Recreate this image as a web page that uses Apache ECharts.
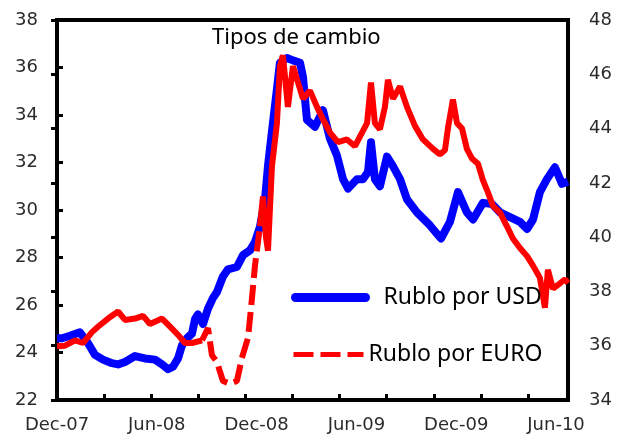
<!DOCTYPE html>
<html>
<head>
<meta charset="utf-8">
<script src="https://cdn.jsdelivr.net/npm/echarts@6/dist/echarts.min.js"></script>
<style>
  html, body { margin: 0; padding: 0; background: #fff; }
  #chart { width: 617px; height: 434px; }
</style>
</head>
<body>
<div id="chart"></div>
<script>
// meses desde dic-07
var usdMonths = [0, 0.32, 0.83, 1.46, 1.97, 2.42, 2.93, 3.5, 3.89, 4.33, 4.97, 5.6, 6.24, 6.69, 7.07, 7.39, 7.71, 7.96, 8.28, 8.6, 8.79, 8.98, 9.3, 9.62, 9.94, 10.19, 10.57, 10.89, 11.46, 11.85, 12.29, 12.61, 12.93, 13.25, 13.44, 13.69, 14.01, 14.2, 14.65, 15.03, 15.48, 15.67, 15.92, 16.43, 16.94, 17.39, 17.83, 18.22, 18.54, 19.11, 19.49, 19.81, 20.0, 20.25, 20.57, 21.02, 21.4, 21.85, 22.29, 22.93, 23.76, 24.2, 24.46, 25.03, 25.54, 26.11, 26.5, 27.13, 27.71, 28.22, 28.85, 29.49, 29.94, 30.32, 30.76, 31.21, 31.72, 32.17, 32.55];
var usdValues = [24.6, 24.6, 24.7, 24.85, 24.4, 23.9, 23.7, 23.55, 23.5, 23.6, 23.85, 23.75, 23.7, 23.5, 23.3, 23.4, 23.75, 24.3, 24.6, 24.8, 25.4, 25.6, 25.2, 25.85, 26.3, 26.55, 27.2, 27.5, 27.6, 28.1, 28.3, 28.65, 29.3, 30.45, 31.85, 33.3, 35.1, 36.2, 36.4, 36.3, 36.2, 35.6, 33.8, 33.5, 34.2, 33.0, 32.3, 31.3, 30.9, 31.3, 31.3, 31.6, 32.85, 31.3, 31.0, 32.25, 31.85, 31.3, 30.45, 29.9, 29.35, 29.0, 28.8, 29.5, 30.75, 29.9, 29.6, 30.3, 30.25, 29.9, 29.7, 29.5, 29.2, 29.6, 30.75, 31.3, 31.8, 31.1, 31.2];

var euroMonths = [0, 0.51, 1.15, 1.66, 2.23, 2.61, 3.25, 3.89, 4.33, 4.97, 5.48, 5.92, 6.69, 7.2, 7.71, 8.15, 8.6, 9.24, 9.62, 9.87, 10.19, 10.57, 11.02, 11.46, 11.78, 12.17, 12.42, 12.61, 12.93, 13.12, 13.31, 13.44, 13.69, 14.01, 14.2, 14.39, 14.71, 15.03, 15.35, 15.67, 16.11, 16.56, 16.94, 17.39, 17.9, 18.47, 18.98, 19.43, 19.75, 20.0, 20.25, 20.57, 20.89, 21.08, 21.4, 21.85, 22.29, 22.8, 23.31, 23.95, 24.39, 24.71, 24.9, 25.22, 25.48, 25.8, 26.11, 26.43, 26.82, 27.13, 27.45, 27.77, 28.22, 28.66, 29.04, 29.49, 29.94, 30.32, 30.76, 31.08, 31.27, 31.59, 32.04, 32.36, 32.55];
var euroValues = [35.98, 36.0, 36.2, 36.1, 36.5, 36.7, 37.0, 37.26, 36.95, 37.0, 37.1, 36.8, 37.0, 36.7, 36.4, 36.1, 36.1, 36.2, 36.65, 35.65, 35.4, 34.7, 34.6, 34.7, 35.55, 36.3, 37.75, 38.95, 40.4, 41.5, 40.0, 39.5, 42.6, 44.2, 46.3, 46.7, 44.8, 46.3, 45.7, 45.1, 45.4, 44.8, 44.35, 43.85, 43.5, 43.6, 43.35, 43.85, 44.2, 45.7, 44.2, 43.97, 44.8, 45.8, 45.1, 45.55, 44.8, 44.1, 43.6, 43.25, 43.05, 43.2, 44.0, 45.07, 44.2, 44.0, 43.25, 42.9, 42.7, 42.1, 41.65, 41.15, 40.9, 40.4, 39.95, 39.6, 39.3, 38.95, 38.5, 37.4, 38.8, 38.1, 38.3, 38.45, 38.3];

var xLabels = ['Dec-07', 'Jun-08', 'Dec-08', 'Jun-09', 'Dec-09', 'Jun-10'];
var dashFrom = 9.24, dashTo = 12.93; // tramo donde se ve la linea discontinua

var usdData = usdMonths.map(function (m, i) { return [m, usdValues[i]]; });
var euroSolid = euroMonths.map(function (m, i) {
    return (m > dashFrom && m < dashTo) ? [m, null] : [m, euroValues[i]];
});
var euroDashed = euroMonths.map(function (m, i) {
    return (m >= dashFrom && m <= dashTo) ? [m, euroValues[i]] : [m, null];
});

var labelStyle = { fontFamily: 'DejaVu Sans', fontSize: 18, color: '#2b2b2b' };

var chart = echarts.init(document.getElementById('chart'));
chart.setOption({
    animation: false,
    title: {
        text: 'Tipos de cambio',
        left: 212, top: 27, padding: 0,
        textStyle: { fontFamily: 'Noto Sans', fontSize: 22, fontWeight: 'normal', color: '#000' }
    },
    legend: [{
        data: ['Rublo por USD'],
        left: 291, top: 286, padding: 0,
        itemWidth: 70, itemHeight: 14,
        lineStyle: { width: 9, cap: 'round' },
        itemStyle: { opacity: 0 },
        textStyle: { fontFamily: 'Noto Sans', fontSize: 23, color: '#000', padding: [0, 0, 0, 13] }
    }, {
        data: ['Rublo por EURO'],
        left: 291, top: 343, padding: 0,
        itemWidth: 70, itemHeight: 14,
        lineStyle: { width: 5, type: [20, 7] },
        itemStyle: { opacity: 0 },
        textStyle: { fontFamily: 'Noto Sans', fontSize: 23, color: '#000' }
    }],
    grid: {
        left: 57, right: 49, top: 20, bottom: 32,
        show: true, borderColor: '#000', borderWidth: 4
    },
    xAxis: [{
        type: 'value', min: 0, max: 32.55, interval: 3,
        axisLine: { lineStyle: { color: '#000', width: 4 } },
        axisTick: { inside: true, length: 6, lineStyle: { color: '#000', width: 3 } },
        axisLabel: { show: false },
        splitLine: { show: false }
    }, {
        type: 'value', min: 0, max: 30.72, interval: 6, position: 'bottom',
        axisLine: { show: false },
        axisTick: { show: false },
        splitLine: { show: false },
        axisLabel: Object.assign({ margin: 16, formatter: function (v) { return xLabels[Math.round(v / 6)] || ''; } }, labelStyle)
    }],
    yAxis: [{
        type: 'value', min: 22, max: 38, interval: 2,
        axisLine: { show: true, lineStyle: { color: '#000', width: 4 } },
        axisTick: { show: true, inside: true, length: 6, lineStyle: { color: '#000', width: 3 } },
        splitLine: { show: false },
        axisLabel: Object.assign({ margin: 19 }, labelStyle)
    }, {
        type: 'value', min: 34, max: 48, interval: 2, position: 'right',
        axisLine: { show: true, lineStyle: { color: '#000', width: 4 } },
        axisTick: { show: true, inside: true, length: 6, lineStyle: { color: '#000', width: 3 } },
        splitLine: { show: false },
        axisLabel: Object.assign({ margin: 21 }, labelStyle)
    }],
    series: [{
        name: 'Rublo por USD',
        type: 'line', xAxisIndex: 0, yAxisIndex: 0,
        symbol: 'none',
        lineStyle: { color: '#0000ff', width: 8, join: 'round' },
        itemStyle: { color: '#0000ff' },
        data: usdData
    }, {
        name: 'euro solido',
        type: 'line', xAxisIndex: 0, yAxisIndex: 1,
        symbol: 'none',
        lineStyle: { color: '#ff0000', width: 6 },
        itemStyle: { color: '#ff0000' },
        data: euroSolid
    }, {
        name: 'Rublo por EURO',
        type: 'line', xAxisIndex: 0, yAxisIndex: 1,
        symbol: 'none',
        lineStyle: { color: '#ff0000', width: 6, type: [20, 7] },
        itemStyle: { color: '#ff0000' },
        data: euroDashed
    }]
});
</script>
</body>
</html>
